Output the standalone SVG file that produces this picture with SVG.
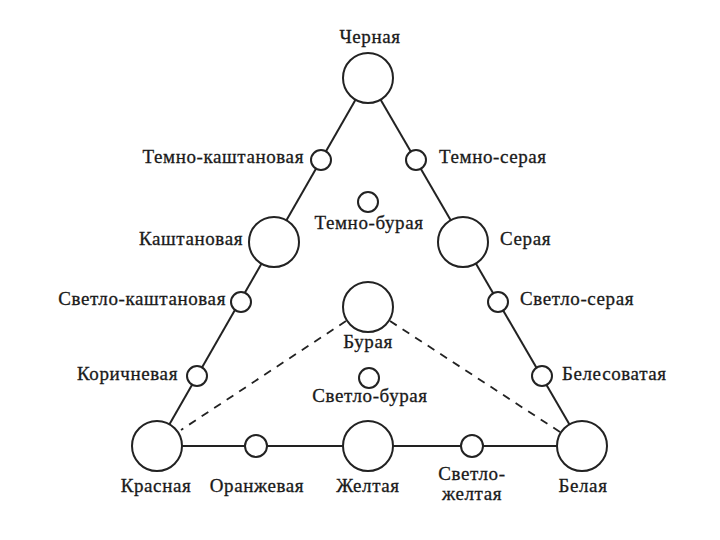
<svg xmlns="http://www.w3.org/2000/svg" width="720" height="540" viewBox="0 0 720 540">
<style>
.n{fill:#fff;stroke:#222;stroke-width:2}
.e{stroke:#222;stroke-width:2;fill:none}
.d{stroke:#222;stroke-width:1.8;fill:none;stroke-dasharray:8 7}
text{font-family:"Liberation Serif","DejaVu Serif","Times New Roman",serif;font-size:19px;letter-spacing:0.6px;fill:#1a1a1a;stroke:#1a1a1a;stroke-width:0.3}
.m{text-anchor:middle}.r{text-anchor:end}
</style>
<rect width="720" height="540" fill="#fff"/>
<g id="edges">
<line class="e" x1="368" y1="78" x2="157" y2="446"/>
<line class="e" x1="368" y1="78" x2="582" y2="446"/>
<line class="e" x1="157" y1="446" x2="582" y2="446"/>
<line class="d" x1="346" y1="321" x2="181" y2="430"/>
<line class="d" x1="390" y1="321" x2="560" y2="432"/>
</g>
<g id="chernaya"><circle class="n" cx="368" cy="78" r="25"/><text class="m" x="370" y="43">Черная</text></g>
<g id="temno-kashtanovaya"><circle class="n" cx="321" cy="160" r="10"/><text class="r" x="304" y="163">Темно-каштановая</text></g>
<g id="temno-seraya"><circle class="n" cx="416" cy="160" r="10"/><text x="439" y="163">Темно-серая</text></g>
<g id="temno-buraya"><circle class="n" cx="368" cy="202" r="10"/><text class="m" x="369" y="229">Темно-бурая</text></g>
<g id="kashtanovaya"><circle class="n" cx="274" cy="242" r="25"/><text class="r" x="243" y="245">Каштановая</text></g>
<g id="seraya"><circle class="n" cx="463" cy="242" r="25"/><text x="500" y="245">Серая</text></g>
<g id="svetlo-kashtanovaya"><circle class="n" cx="241" cy="302" r="10"/><text class="r" x="226" y="305">Светло-каштановая</text></g>
<g id="svetlo-seraya"><circle class="n" cx="498" cy="302" r="10"/><text x="520" y="305">Светло-серая</text></g>
<g id="buraya"><circle class="n" cx="368" cy="307" r="25"/><text class="m" x="368" y="348">Бурая</text></g>
<g id="korichnevaya"><circle class="n" cx="197" cy="376" r="10"/><text class="r" x="178" y="380">Коричневая</text></g>
<g id="belesovataya"><circle class="n" cx="542" cy="376" r="10"/><text x="562" y="380">Белесоватая</text></g>
<g id="svetlo-buraya"><circle class="n" cx="369" cy="378" r="10"/><text class="m" x="370" y="402">Светло-бурая</text></g>
<g id="krasnaya"><circle class="n" cx="157" cy="446" r="25"/><text class="m" x="156" y="492">Красная</text></g>
<g id="oranzhevaya"><circle class="n" cx="256" cy="446" r="11"/><text class="m" x="257" y="492">Оранжевая</text></g>
<g id="zheltaya"><circle class="n" cx="368" cy="446" r="25"/><text class="m" x="368" y="492">Желтая</text></g>
<g id="svetlo-zheltaya"><circle class="n" cx="472" cy="446" r="11"/><text class="m" x="472" y="480">Светло-</text><text class="m" x="472" y="500">желтая</text></g>
<g id="belaya"><circle class="n" cx="582" cy="446" r="25"/><text class="m" x="583" y="492">Белая</text></g>
</svg>
